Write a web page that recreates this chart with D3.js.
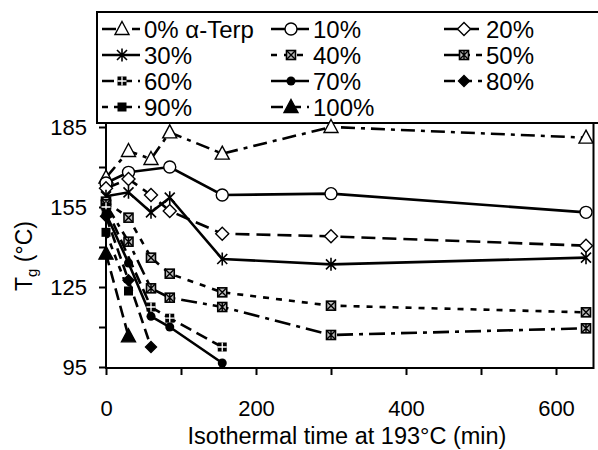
<!DOCTYPE html>
<html>
<head>
<meta charset="utf-8">
<script src="https://cdnjs.cloudflare.com/ajax/libs/d3/7.8.5/d3.min.js"></script>
<style>
body { margin: 0; background: #fff; }
svg text { font-family: "Liberation Sans", Arial, Helvetica, sans-serif; fill: #000; }
</style>
</head>
<body>
<svg id="chart" width="598" height="450"></svg>
<script>
// isothermal time (min) and Tg (°C) per alpha-terpineol content
var times = [0, 30, 60, 85, 155, 300, 640];
var seriesNames = ["0% α-Terp", "10%", "20%", "30%", "40%", "50%", "60%", "70%", "80%", "90%", "100%"];
var tg0   = [166, 176, 173, 183, 175, 185, 181];
var tg10  = [164, 168, null, 170, 159.5, 160, 153];
var tg20  = [162, 165.5, 159.5, 153.5, 145, 144, 140.5];
var tg30  = [159, 160.5, 153, 158.5, 135.5, 133.5, 136];
var tg40  = [157, 151, 136, 130, 123, 118, 115.5];
var tg50  = [156, 142, 124.5, 121, 117.5, 107, 109.5];
var tg60  = [155, null, 117.5, 113.3, 102.5, null, null];
var tg70  = [152.5, 134, 114, 110, 96.5, null, null];
var tg80  = [151.5, 127.5, 102.5, null, null, null, null];
var tg90  = [145.5, 123.5, null, null, null, null, null];
var tg100 = [137.5, 106.5, null, null, null, null, null];
var allTg = [tg0, tg10, tg20, tg30, tg40, tg50, tg60, tg70, tg80, tg90, tg100];

var xTicks = [0, 100, 200, 300, 400, 500, 600];
var xLabels = [0, 200, 400, 600];
var yTicks = [95, 110, 125, 140, 155, 170, 185];
var yLabels = [95, 125, 155, 185];

// line dash + marker per series
var dashes  = [ "14,6,4,6", null, "14,7", null, "6,7", "16,6,4,6", "12,6", null, "11,6", "6,6", "12,6" ];
var markers = [ "triOpen", "circOpen", "diaOpen", "aster", "boxX", "boxStar", "boxPlus", "dot", "diaFill", "sqFill", "triFill" ];

var svg = d3.select("#chart");
var plotLeft = 106, plotRight = 593.5, plotTop = 127, plotBottom = 367;

var x = d3.scaleLinear().domain([0, 650]).range([plotLeft, plotRight]);
var y = d3.scaleLinear().domain([95, 185]).range([plotBottom, plotTop]);

// legend box
var legend = svg.append("g");
legend.append("rect")
    .attr("x", 97).attr("y", 12).attr("width", 520).attr("height", 111)
    .attr("fill", "none").attr("stroke", "#000").attr("stroke-width", 2);

// frame
svg.append("path")
    .attr("d", "M" + plotLeft + ",123 V" + (plotBottom + 1) + " H" + plotRight + " V123")
    .attr("fill", "none").attr("stroke", "#000").attr("stroke-width", 2);

// axes
var xAxis = d3.axisBottom(x).tickValues(xTicks).tickSizeOuter(0).tickSizeInner(7)
    .tickFormat(function(d) { return xLabels.indexOf(d) >= 0 ? d : ""; }).tickPadding(25);
var yAxis = d3.axisLeft(y).tickValues(yTicks).tickSizeOuter(0).tickSizeInner(7)
    .tickFormat(function(d) { return yLabels.indexOf(d) >= 0 ? d : ""; }).tickPadding(12);

var gx = svg.append("g").attr("transform", "translate(0," + (plotBottom + 1) + ")").call(xAxis);
var gy = svg.append("g").attr("transform", "translate(" + plotLeft + ",0)").call(yAxis);
[gx, gy].forEach(function(g) {
    g.select(".domain").remove();
    g.selectAll(".tick line").attr("stroke", "#000").attr("stroke-width", 2);
    g.selectAll(".tick text").attr("font-size", 22).attr("fill", "#000")
        .style("font-family", '"Liberation Sans", Arial, sans-serif');
});
gy.selectAll(".tick text").attr("dy", "0.36em");

// axis titles
svg.append("text")
    .attr("x", 347).attr("y", 444)
    .attr("text-anchor", "middle").attr("font-size", 23.5)
    .text("Isothermal time at 193°C (min)");

var yt = svg.append("text")
    .attr("transform", "translate(32,256) rotate(-90)")
    .attr("text-anchor", "middle").attr("font-size", 23);
yt.append("tspan").text("T");
yt.append("tspan").attr("font-size", 15).attr("dy", 5).text("g");
yt.append("tspan").attr("dy", -5).text(" (°C)");

function drawMarker(g, type, cx, cy) {
    var k = g.append("g").attr("transform", "translate(" + cx + "," + cy + ")");
    var sw = 1.4;
    if (type === "triOpen" || type === "triFill") {
        k.append("path").attr("d", "M0,-7.5 L7,5.5 L-7,5.5 Z")
            .attr("fill", type === "triFill" ? "#000" : "#fff").attr("stroke", "#000").attr("stroke-width", sw);
    } else if (type === "circOpen") {
        k.append("circle").attr("r", 6).attr("fill", "#fff").attr("stroke", "#000").attr("stroke-width", sw);
    } else if (type === "dot") {
        k.append("circle").attr("r", 4.5).attr("fill", "#000");
    } else if (type === "diaOpen" || type === "diaFill") {
        var s = type === "diaFill" ? 5.5 : 6.5;
        k.append("path").attr("d", "M0," + (-s) + " L" + s + ",0 L0," + s + " L" + (-s) + ",0 Z")
            .attr("fill", type === "diaFill" ? "#000" : "#fff").attr("stroke", "#000").attr("stroke-width", sw);
    } else if (type === "aster") {
        k.append("path").attr("d", "M-5,-5 L5,5 M-5,5 L5,-5 M0,-6.5 V6.5")
            .attr("stroke", "#000").attr("stroke-width", 1.6).attr("fill", "none");
    } else if (type === "boxX" || type === "boxStar") {
        k.append("rect").attr("x", -4.5).attr("y", -4.5).attr("width", 9).attr("height", 9)
            .attr("fill", "#bdbdbd").attr("stroke", "#000").attr("stroke-width", 1.6);
        k.append("path").attr("d", type === "boxX" ? "M-4,-4 L4,4 M-4,4 L4,-4" : "M-4,-4 L4,4 M-4,4 L4,-4 M0,-4.5 V4.5")
            .attr("stroke", "#000").attr("stroke-width", 1.4);
    } else if (type === "boxPlus") {
        k.append("rect").attr("x", -4.5).attr("y", -4.5).attr("width", 9).attr("height", 9).attr("fill", "#000");
        k.append("path").attr("d", "M-4.5,0 H4.5 M0,-4.5 V4.5").attr("stroke", "#fff").attr("stroke-width", 1.3);
    } else if (type === "sqFill") {
        k.append("rect").attr("x", -4.5).attr("y", -4.5).attr("width", 9).attr("height", 9).attr("fill", "#000");
    }
}

var line = d3.line().x(function(d) { return x(d[0]); }).y(function(d) { return y(d[1]); });

var series = allTg.map(function(vals) {
    return times.map(function(t, i) { return [t, vals[i]]; })
        .filter(function(d) { return d[1] !== null; });
});

var plot = svg.append("g");
series.forEach(function(pts, i) {
    plot.append("path").datum(pts)
        .attr("d", line).attr("fill", "none").attr("stroke", "#000")
        .attr("stroke-width", 2.6).attr("stroke-dasharray", dashes[i]);
});
series.forEach(function(pts, i) {
    pts.forEach(function(d) { drawMarker(plot, markers[i], x(d[0]), y(d[1])); });
});

// legend entries: 3 columns x 4 rows
var colX = [102, 271, 444], rowY = [29, 55, 81, 107];
seriesNames.forEach(function(name, i) {
    var x0 = colX[i % 3], y0 = rowY[Math.floor(i / 3)];
    legend.append("line").attr("x1", x0).attr("x2", x0 + 38).attr("y1", y0).attr("y2", y0)
        .attr("stroke", "#000").attr("stroke-width", 2.6).attr("stroke-dasharray", dashes[i]);
    drawMarker(legend, markers[i], x0 + 20, y0);
    legend.append("text").attr("x", x0 + 42).attr("y", y0 + 8.5).attr("font-size", 24).text(name);
});
</script>
</body>
</html>
